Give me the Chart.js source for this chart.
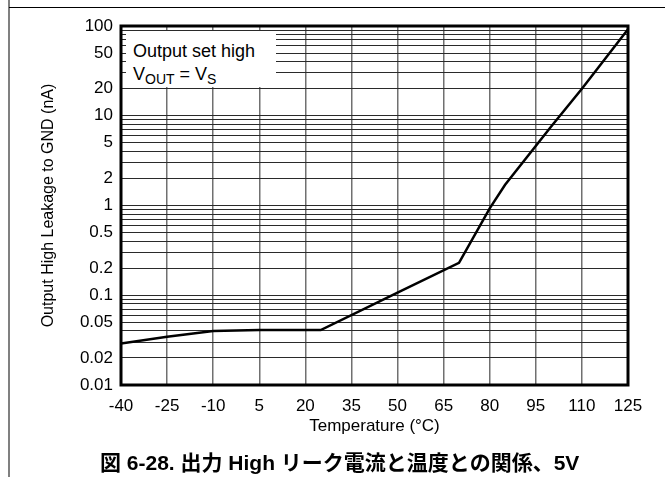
<!DOCTYPE html>
<html lang="ja">
<head>
<meta charset="UTF-8">
<title>出力 High リーク電流と温度との関係、5V</title>
<script src="https://cdn.jsdelivr.net/npm/chart.js"></script>
<style>
    body { margin: 0; background: #fff; font-family: "Liberation Sans", Arial, sans-serif; }
    .wrap { position: relative; width: 665px; height: 477px; overflow: hidden; }
    #chart { position: absolute; left: 0; top: 0; }
    .frame-top { position: absolute; left: 9px; top: 7px; width: 656px; height: 1px; background: #000; }
    .frame-left { position: absolute; left: 8px; top: 0; width: 2px; height: 477px; background: #808080; }
    .note {
        position: absolute; left: 126px; top: 31px; width: 150px; height: 56px;
        background: #fff; font-size: 18px; line-height: 23px; color: #000;
        padding: 9px 0 0 7px; box-sizing: border-box;
    }
    .note sub { font-size: 14px; vertical-align: -4px; line-height: 0; }
    .caption {
        position: absolute; left: 100px; top: 446px; white-space: nowrap;
        font-family: "Liberation Sans", Arial, "Noto Sans CJK JP", sans-serif;
        font-weight: bold; font-size: 21px; color: #000;
    }
</style>
</head>
<body>
<div class="wrap">
    <div class="frame-left"></div>
    <div class="frame-top"></div>
    <canvas id="chart" width="665" height="477"></canvas>
    <div class="note">Output set high<br>V<sub>OUT</sub> = V<sub>S</sub></div>
    <div class="caption">図 6-28. 出力 High リーク電流と温度との関係、5V</div>
</div>

<script>
    // Data
    const temperature = [-40, -25, -10, 5, 25, 50, 70, 80, 85, 100, 110, 125];
    const leakage = [0.029, 0.0345, 0.04, 0.041, 0.041, 0.107, 0.23, 0.93, 1.7, 7.6, 20, 92];

    const xTicks = [-40, -25, -10, 5, 20, 35, 50, 65, 80, 95, 110, 125];
    const yTickLabels = [0.01, 0.02, 0.05, 0.1, 0.2, 0.5, 1, 2, 5, 10, 20, 50, 100];
    const yDecades = [0.01, 0.1, 1, 10];
    const yMantissas = [1, 2, 3, 4, 5, 6, 7, 8, 9];

    const tickFont = { family: '"Liberation Sans", Arial, sans-serif', size: 17 };

    // Thick frame round the plot area
    const plotBorder = {
        id: 'plotBorder',
        afterDraw(chart) {
            const { ctx, chartArea: a } = chart;
            ctx.save();
            ctx.strokeStyle = '#000';
            ctx.lineWidth = 3;
            ctx.strokeRect(a.left, a.top, a.right - a.left, a.bottom - a.top);
            ctx.restore();
        }
    };

    new Chart(document.getElementById('chart'), {
        type: 'line',
        data: {
            datasets: [{
                data: temperature.map((t, i) => ({ x: t, y: leakage[i] })),
                borderColor: '#000',
                borderWidth: 2.5,
                pointRadius: 0,
                tension: 0,
                fill: false
            }]
        },
        options: {
            responsive: false,
            animation: false,
            layout: { padding: { top: 26, right: 37, left: 0, bottom: 0 } },
            plugins: { legend: { display: false }, tooltip: { enabled: false } },
            scales: {
                x: {
                    type: 'linear',
                    min: -40,
                    max: 125,
                    afterFit(scale) { scale.height = 92; },
                    afterBuildTicks(scale) { scale.ticks = xTicks.map(v => ({ value: v })); },
                    grid: { color: '#707070', lineWidth: 1.5, drawTicks: false },
                    border: { display: false },
                    ticks: { color: '#000', font: tickFont, padding: 11, autoSkip: false, maxRotation: 0 },
                    title: {
                        display: true,
                        text: 'Temperature (°C)',
                        color: '#000',
                        font: { family: '"Liberation Sans", Arial, sans-serif', size: 17 },
                        padding: { top: 0, bottom: 40 }
                    }
                },
                y: {
                    type: 'logarithmic',
                    min: 0.01,
                    max: 100,
                    afterFit(scale) { scale.width = 121; },
                    afterBuildTicks(scale) {
                        const ticks = [];
                        yDecades.forEach(d => yMantissas.forEach(m => ticks.push({ value: +(d * m).toPrecision(3) })));
                        ticks.push({ value: 100 });
                        scale.ticks = ticks;
                    },
                    grid: { color: '#2a2a2a', lineWidth: 1, drawTicks: false },
                    border: { display: false },
                    ticks: {
                        color: '#000',
                        font: tickFont,
                        padding: 8,
                        autoSkip: false,
                        callback(value) {
                            return yTickLabels.some(v => Math.abs(v - value) < 1e-9) ? String(value) : '';
                        }
                    },
                    title: {
                        display: true,
                        text: 'Output High Leakage to GND (nA)',
                        color: '#000',
                        font: { family: '"Liberation Sans", Arial, sans-serif', size: 16 },
                        padding: { top: 39, bottom: 0 }
                    }
                }
            }
        },
        plugins: [plotBorder]
    });
</script>
</body>
</html>
